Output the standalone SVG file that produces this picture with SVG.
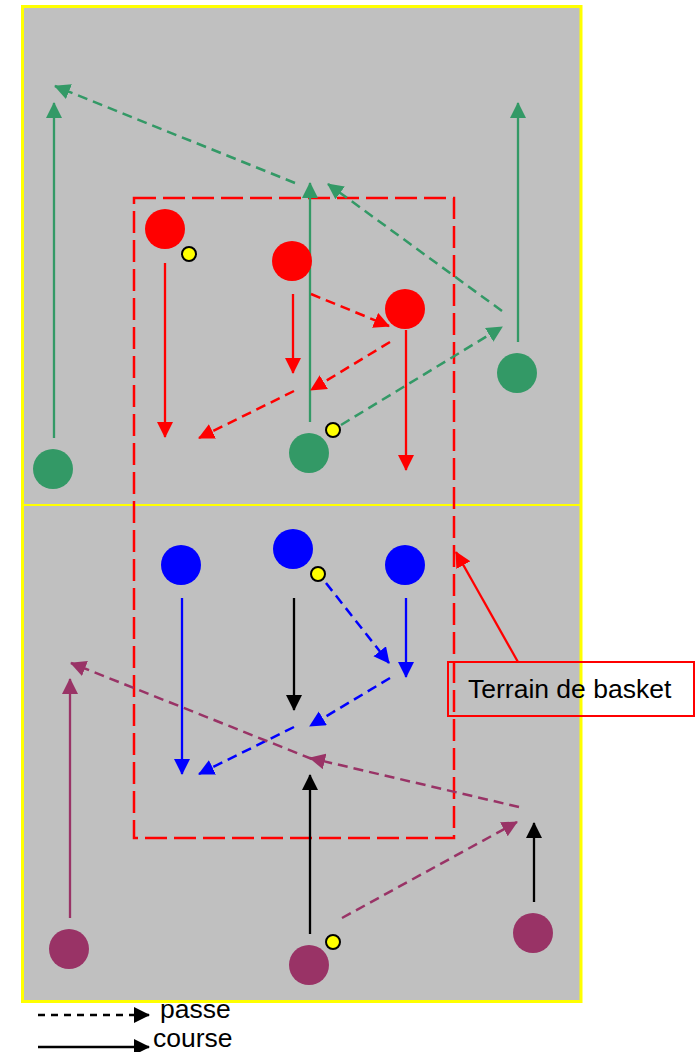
<svg xmlns="http://www.w3.org/2000/svg" width="697" height="1052" viewBox="0 0 697 1052">
<style>
.court{fill:#C0C0C0;stroke:#FFFF00;stroke-width:3}
.mid{stroke:#FFFF00;stroke-width:2}
.zone{fill:none;stroke:#FF0000;stroke-width:2.5;stroke-dasharray:22,7}
.run{fill:none;stroke-width:2.3}
.pass{fill:none;stroke-width:2.5;stroke-dasharray:10,6}
.g{stroke:#339966}.r{stroke:#FF0000}.b{stroke:#0000FF}.p{stroke:#993366}.k{stroke:#000000}
.pg{fill:#339966}.pr{fill:#FF0000}.pb{fill:#0000FF}.pp{fill:#993366}
.ball{fill:#FFFF00;stroke:#000;stroke-width:2}
.lbl{font-family:"Liberation Sans",Arial,sans-serif;font-size:26.5px;fill:#000}
</style>
<defs>
<marker id="ag" markerUnits="userSpaceOnUse" markerWidth="17" markerHeight="17" refX="15" refY="8" orient="auto"><path d="M0,0 L16,8 L0,16 z" fill="#339966"/></marker>
<marker id="ar" markerUnits="userSpaceOnUse" markerWidth="17" markerHeight="17" refX="15" refY="8" orient="auto"><path d="M0,0 L16,8 L0,16 z" fill="#FF0000"/></marker>
<marker id="ab" markerUnits="userSpaceOnUse" markerWidth="17" markerHeight="17" refX="15" refY="8" orient="auto"><path d="M0,0 L16,8 L0,16 z" fill="#0000FF"/></marker>
<marker id="ap" markerUnits="userSpaceOnUse" markerWidth="17" markerHeight="17" refX="15" refY="8" orient="auto"><path d="M0,0 L16,8 L0,16 z" fill="#993366"/></marker>
<marker id="ak" markerUnits="userSpaceOnUse" markerWidth="17" markerHeight="17" refX="15" refY="8" orient="auto"><path d="M0,0 L16,8 L0,16 z" fill="#000000"/></marker>
</defs>
<g id="court">
<rect class="court" x="22.5" y="6.5" width="558.5" height="995"/>
<line class="mid" x1="22" y1="505" x2="581" y2="505"/>
<rect id="terrain" class="zone" x="134" y="198" width="320" height="640"/>
</g>
<g id="connectors">
<line class="run g" x1="54" y1="438" x2="54" y2="103" marker-end="url(#ag)"/>
<line class="run g" x1="310" y1="422" x2="310" y2="183" marker-end="url(#ag)"/>
<line class="run g" x1="518" y1="342" x2="518" y2="103" marker-end="url(#ag)"/>
<line class="pass g" x1="502" y1="311" x2="328" y2="184" marker-end="url(#ag)"/>
<line class="pass g" x1="295" y1="183" x2="55" y2="86" marker-end="url(#ag)"/>
<line class="pass g" x1="341" y1="425" x2="502" y2="327" marker-end="url(#ag)"/>
<line class="run r" x1="165" y1="263" x2="165" y2="437" marker-end="url(#ar)"/>
<line class="run r" x1="293" y1="294" x2="293" y2="373" marker-end="url(#ar)"/>
<line class="run r" x1="406" y1="330" x2="406" y2="470" marker-end="url(#ar)"/>
<line class="pass r" x1="311" y1="294" x2="389" y2="326" marker-end="url(#ar)"/>
<line class="pass r" x1="390" y1="342" x2="311" y2="390" marker-end="url(#ar)"/>
<line class="pass r" x1="294" y1="391" x2="199" y2="438" marker-end="url(#ar)"/>
<line class="run b" x1="182" y1="598" x2="182" y2="774" marker-end="url(#ab)"/>
<line class="run k" x1="294" y1="598" x2="294" y2="710" marker-end="url(#ak)"/>
<line class="run b" x1="406" y1="598" x2="406" y2="677" marker-end="url(#ab)"/>
<line class="pass b" x1="326" y1="583" x2="389" y2="663" marker-end="url(#ab)"/>
<line class="pass b" x1="390" y1="678" x2="310" y2="726" marker-end="url(#ab)"/>
<line class="pass b" x1="294" y1="727" x2="199" y2="774" marker-end="url(#ab)"/>
<line class="run p" x1="70" y1="918" x2="70" y2="679" marker-end="url(#ap)"/>
<line class="run k" x1="310" y1="934" x2="310" y2="775" marker-end="url(#ak)"/>
<line class="run k" x1="534" y1="902" x2="534" y2="823" marker-end="url(#ak)"/>
<line class="pass p" x1="342" y1="918" x2="517" y2="822" marker-end="url(#ap)"/>
<line class="pass p" x1="519" y1="807" x2="310" y2="758" marker-end="url(#ap)"/>
<line class="pass p" x1="312" y1="759" x2="71" y2="663" marker-end="url(#ap)"/>
<line class="run r" x1="518" y1="662" x2="456" y2="552" marker-end="url(#ar)"/>
</g>
<g id="red1"><circle class="pr" cx="165" cy="229" r="20"/></g>
<g id="red2"><circle class="pr" cx="292" cy="261" r="20"/></g>
<g id="red3"><circle class="pr" cx="405" cy="309" r="20"/></g>
<g id="green1"><circle class="pg" cx="53" cy="469" r="20"/></g>
<g id="green2"><circle class="pg" cx="309" cy="453" r="20"/></g>
<g id="green3"><circle class="pg" cx="517" cy="373" r="20"/></g>
<g id="blue1"><circle class="pb" cx="181" cy="565" r="20"/></g>
<g id="blue2"><circle class="pb" cx="293" cy="549" r="20"/></g>
<g id="blue3"><circle class="pb" cx="405" cy="565" r="20"/></g>
<g id="purple1"><circle class="pp" cx="69" cy="949" r="20"/></g>
<g id="purple2"><circle class="pp" cx="309" cy="965" r="20"/></g>
<g id="purple3"><circle class="pp" cx="533" cy="933" r="20"/></g>
<g id="ball1"><circle class="ball" cx="189" cy="254" r="7"/></g>
<g id="ball2"><circle class="ball" cx="333" cy="430" r="7"/></g>
<g id="ball3"><circle class="ball" cx="318" cy="574" r="7"/></g>
<g id="ball4"><circle class="ball" cx="333" cy="942" r="7"/></g>
<g id="label">
<rect x="448" y="662" width="246" height="54" fill="none" stroke="#FF0000" stroke-width="2"/>
<text class="lbl" x="468" y="698">Terrain de basket</text>
</g>
<g id="legend">
<line class="pass k" x1="38" y1="1015" x2="149" y2="1015" style="stroke-dasharray:7,6" marker-end="url(#ak)"/>
<text class="lbl" x="160" y="1018">passe</text>
<line class="run k" x1="38" y1="1047" x2="149" y2="1047" marker-end="url(#ak)"/>
<text class="lbl" x="153" y="1047">course</text>
</g>
</svg>
